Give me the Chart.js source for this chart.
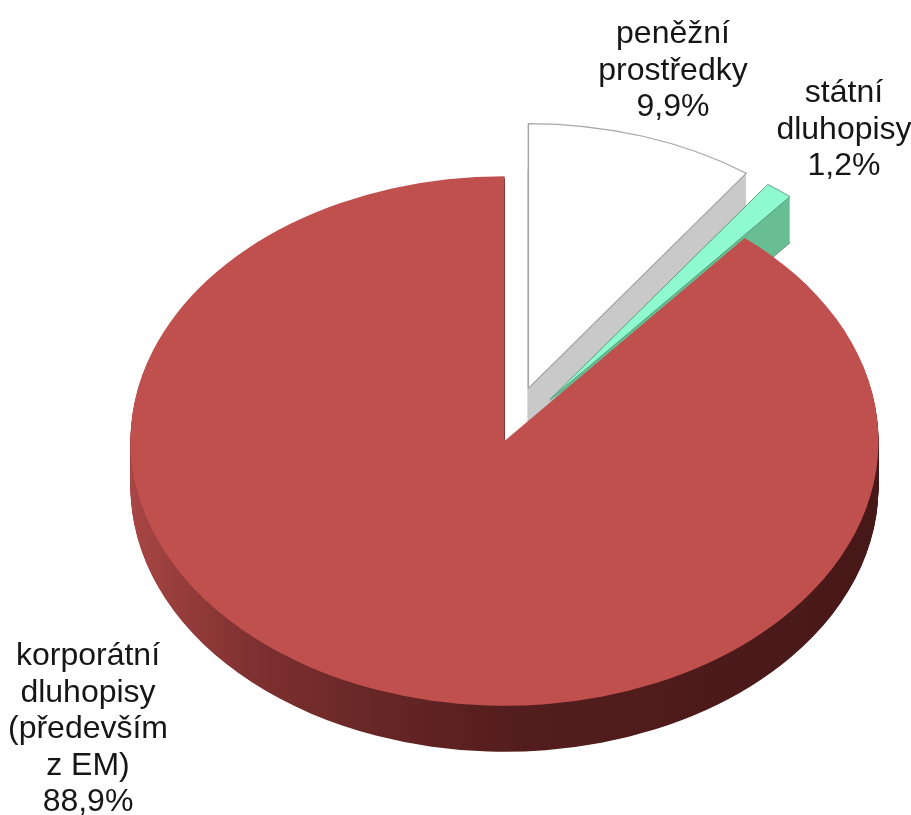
<!DOCTYPE html>
<html>
<head>
<meta charset="utf-8">
<title>Struktura portfolia</title>
<script src="https://cdn.jsdelivr.net/npm/chart.js@4.4.1/dist/chart.umd.min.js"></script>
<style>
  html, body { margin: 0; padding: 0; background: #ffffff; }
  canvas { display: block; }
</style>
</head>
<body>
<canvas id="pieChart" width="911" height="815"></canvas>
<script>
// slice names (split into label lines) and their shares in %
const categories = [
    ['peněžní', 'prostředky'],
    ['státní', 'dluhopisy'],
    ['korporátní', 'dluhopisy', '(především', 'z EM)']
];
const shares = [9.9, 1.2, 88.9];

const topColors = ['#ffffff', '#8ffad0', '#c0504d'];
const edgeColors = ['#a8a8a8', '#4f8f6f', '#c0504d'];
const sideColors = ['#c9c9c9', '#69bd93', null];   // null = red gradient
const edgeWidths = [1.5, 1, 0];
const explode = [78, 74, 0];                       // pulled-out slices
const labelPos = [[673, 43], [844, 102], [88, 665]];
const lineGap = 36.5;

const tilt = 0.708;   // vertical squash of the disc
const depth = 46;     // thickness of the disc in px

function percent(v) {
    return v.toFixed(1).replace('.', ',') + '%';
}

const pie3d = {
    id: 'pie3d',
    beforeDatasetsDraw(chart) {
        const ctx = chart.ctx;
        const arcs = chart.getDatasetMeta(0).data;
        const cx = arcs[0].x, cy = arcs[0].y, r = arcs[0].outerRadius;

        // side wall of the big slice gets darker towards the right
        const redSide = ctx.createLinearGradient(cx - r, 0, cx + r, 0);
        redSide.addColorStop(0, '#a84644');
        redSide.addColorStop(0.16, '#7e3130');
        redSide.addColorStop(0.36, '#632424');
        redSide.addColorStop(0.52, '#541d1d');
        redSide.addColorStop(1, '#471818');

        arcs.forEach((arc, i) => {
            const mid = (arc.startAngle + arc.endAngle) / 2;
            const dx = Math.cos(mid) * explode[i];
            const dy = Math.sin(mid) * explode[i];
            const place = (drop) => {
                ctx.translate(0, drop);
                ctx.translate(cx, cy);
                ctx.scale(1, tilt);
                ctx.translate(-cx + dx, -cy + dy);
            };

            // stacked copies make the thickness, outlined at the bottom
            const side = Object.create(arc);
            for (let d = depth; d > 0; d--) {
                side.options = Object.assign({}, arc.options, {
                    backgroundColor: sideColors[i] || redSide,
                    borderWidth: d === depth ? edgeWidths[i] : 0,
                    offset: 0
                });
                ctx.save();
                place(d);
                side.draw(ctx);
                ctx.restore();
            }

            // top face
            const top = Object.create(arc);
            top.options = Object.assign({}, arc.options, {offset: 0});
            ctx.save();
            place(0);
            top.draw(ctx);
            ctx.restore();
        });
        return false;
    },
    afterDraw(chart) {
        const ctx = chart.ctx;
        ctx.save();
        ctx.font = "32px 'Liberation Sans', Arial, sans-serif";
        ctx.fillStyle = '#161616';
        ctx.textAlign = 'center';
        ctx.textBaseline = 'alphabetic';
        categories.forEach((lines, i) => {
            const text = lines.concat(percent(shares[i]));
            const [x, y] = labelPos[i];
            text.forEach((line, j) => ctx.fillText(line, x, y + j * lineGap));
        });
        ctx.restore();
    }
};

new Chart(document.getElementById('pieChart'), {
    type: 'pie',
    data: {
        labels: categories.map(l => l.join(' ')),
        datasets: [{
            data: shares,
            backgroundColor: topColors,
            borderColor: edgeColors,
            borderWidth: edgeWidths,
            radius: 374
        }]
    },
    options: {
        responsive: false,
        animation: false,
        events: [],
        layout: { padding: { left: 98, top: 67, right: 0, bottom: 0 } },
        plugins: {
            legend: { display: false },
            tooltip: { enabled: false }
        }
    },
    plugins: [pie3d]
});
</script>
</body>
</html>
